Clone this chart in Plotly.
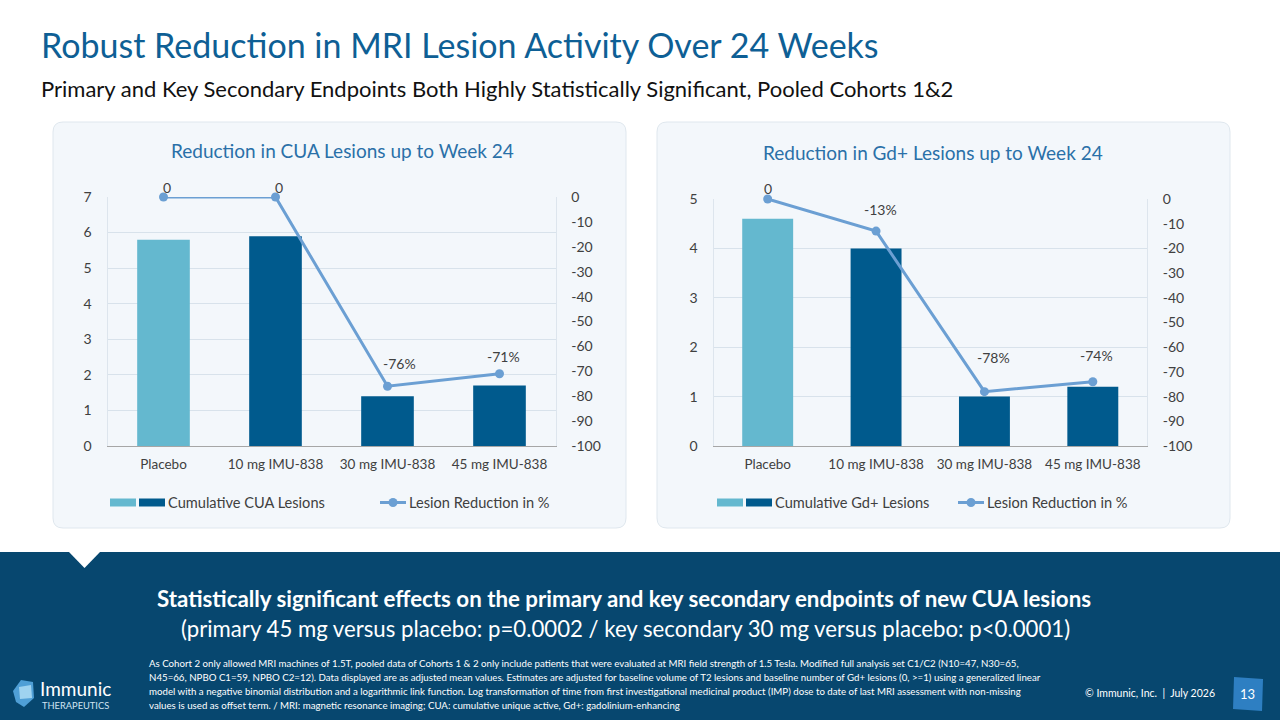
import plotly.graph_objects as go

# data
categories = ["Placebo", "10 mg IMU-838", "30 mg IMU-838", "45 mg IMU-838"]
cua_lesions = [5.8, 5.9, 1.4, 1.7]
cua_reduction = [0, 0, -76, -71]
gd_lesions = [4.6, 4.0, 1.0, 1.2]
gd_reduction = [0, -13, -78, -74]
pct_ticks = [0, -10, -20, -30, -40, -50, -60, -70, -80, -90, -100]

footnote = [
    "As Cohort 2 only allowed MRI machines of 1.5T, pooled data of Cohorts 1 & 2 only include patients that were evaluated at MRI field strength of 1.5 Tesla. Modified full analysis set C1/C2 (N10=47, N30=65,",
    "N45=66, NPBO C1=59, NPBO C2=12). Data displayed are as adjusted mean values. Estimates are adjusted for baseline volume of T2 lesions and baseline number of Gd+ lesions (0, >=1) using a generalized linear",
    "model with a negative binomial distribution and a logarithmic link function. Log transformation of time from first investigational medicinal product (IMP) dose to date of last MRI assessment with non-missing",
    "values is used as offset term. / MRI: magnetic resonance imaging; CUA: cumulative unique active, Gd+: gadolinium-enhancing",
]

FONT = "Lato"
LIGHT = "#64b8cf"
DARK = "#005a8d"
LINE = "#6b9fd3"
NAVY = "#07476f"
TXT = "#404040"
W, H = 1280, 720


def X(px):
    return px / W


def Y(py):
    return 1 - py / H


def pct_text(vals):
    return [f"{v}%" if v else "0" for v in vals]


def rounded_box(x0, y0, x1, y1, r=10):
    x0, x1, y0, y1 = X(x0), X(x1), Y(y0), Y(y1)
    rx, ry = r / W, r / H
    return (f"M{x0+rx},{y0} L{x1-rx},{y0} Q{x1},{y0} {x1},{y0-ry} "
            f"L{x1},{y1+ry} Q{x1},{y1} {x1-rx},{y1} L{x0+rx},{y1} "
            f"Q{x0},{y1} {x0},{y1+ry} L{x0},{y0-ry} Q{x0},{y0} {x0+rx},{y0} Z")


fig = go.Figure()

# label shifts (px) of the % labels relative to their points, as placed on the slide
panels = [
    dict(lesions=cua_lesions, red=cua_reduction, ymax=7, xa="x", ya="y", ya2="y2",
         dom=(107.5, 555.5), top=197, title="Reduction in CUA Lesions up to Week 24",
         box=(53, 626), tx=342, ty=150, legend="Cumulative CUA Lesions", lx=110, mx=380,
         shifts=[(3, 10), (3, 10), (12, 23), (4, 17)]),
    dict(lesions=gd_lesions, red=gd_reduction, ymax=5, xa="x2", ya="y3", ya2="y4",
         dom=(713.5, 1147), top=199, title="Reduction in Gd+ Lesions up to Week 24",
         box=(657, 1230), tx=933, ty=152, legend="Cumulative Gd+ Lesions", lx=717, mx=958,
         shifts=[(0, 11), (4, 22), (9, 34), (4, 26)]),
]

shapes = []
annotations = []
bottom = 446

for i, p in enumerate(panels):
    bar_colors = [LIGHT if c == "Placebo" else DARK for c in categories]
    fig.add_trace(go.Bar(x=categories, y=p["lesions"], marker=dict(color=bar_colors, line_width=0),
                         xaxis=p["xa"], yaxis=p["ya"], showlegend=False))
    fig.add_trace(go.Scatter(x=categories, y=p["red"], mode="lines+markers",
                             line=dict(color=LINE, width=3), marker=dict(color=LINE, size=9),
                             xaxis=p["xa"], yaxis=p["ya2"], showlegend=False, cliponaxis=False))
    for c, v, t, (dx, dy) in zip(categories, p["red"], pct_text(p["red"]), p["shifts"]):
        annotations.append(dict(text=t, x=c, y=v, xref=p["xa"], yref=p["ya2"], xshift=dx, yshift=dy,
                                xanchor="center", yanchor="middle",
                                font=dict(family=FONT, size=14, color=TXT)))

    n = "" if i == 0 else "2"
    xdom = [X(p["dom"][0]), X(p["dom"][1])]
    ydom = [Y(bottom), Y(p["top"])]
    fig.layout["xaxis" + n] = dict(domain=xdom, anchor=p["ya"], showline=True, linecolor="#a6a6a6",
                                   linewidth=1, ticks="", showgrid=False, ticklabelstandoff=6,
                                   tickfont=dict(family=FONT, size=13.5, color=TXT))
    fig.layout[p["ya"].replace("y", "yaxis")] = dict(
        domain=ydom, anchor=p["xa"], range=[0, p["ymax"]], dtick=1, showgrid=True,
        gridcolor="#d8e2eb", gridwidth=1, zeroline=False, showline=True, linecolor="#dde5ed",
        tickfont=dict(family=FONT, size=14, color=TXT), ticklabelstandoff=12)
    fig.layout[p["ya2"].replace("y", "yaxis")] = dict(
        domain=ydom, anchor=p["xa"], overlaying=p["ya"], side="right", range=[-100, 0],
        tickvals=pct_ticks, ticktext=[str(v) for v in pct_ticks],
        showgrid=False, zeroline=False, showline=True, linecolor="#dde5ed",
        tickfont=dict(family=FONT, size=14, color=TXT), ticklabelstandoff=12)

    # panel background
    bx0, bx1 = p["box"]
    shapes.append(dict(type="path", path=rounded_box(bx0, 122, bx1, 528), xref="paper", yref="paper",
                       fillcolor="#f3f7fb", line=dict(color="#dfe7ee", width=1), layer="below"))
    annotations.append(dict(text=p["title"], x=X(p["tx"]), y=Y(p["ty"]), xanchor="center",
                            yanchor="middle", font=dict(family=FONT, size=19, color="#2a70a8")))

    # legend drawn by hand: two swatches for the bars, line+dot for the reduction
    lx, mx, ly = p["lx"], p["mx"], 502.5
    shapes.append(dict(type="rect", x0=X(lx), x1=X(lx + 26), y0=Y(ly + 4), y1=Y(ly - 4),
                       xref="paper", yref="paper", fillcolor=LIGHT, line_width=0))
    shapes.append(dict(type="rect", x0=X(lx + 29), x1=X(lx + 55), y0=Y(ly + 4), y1=Y(ly - 4),
                       xref="paper", yref="paper", fillcolor=DARK, line_width=0))
    annotations.append(dict(text=p["legend"], x=X(lx + 56), y=Y(ly), xanchor="left",
                            yanchor="middle", font=dict(family=FONT, size=14.6, color=TXT)))
    shapes.append(dict(type="line", x0=X(mx), x1=X(mx + 26), y0=Y(ly), y1=Y(ly), xref="paper",
                       yref="paper", line=dict(color=LINE, width=3)))
    shapes.append(dict(type="circle", x0=X(mx + 8.5), x1=X(mx + 17.5), y0=Y(ly + 4.5),
                       y1=Y(ly - 4.5), xref="paper", yref="paper", fillcolor=LINE, line_width=0))
    annotations.append(dict(text="Lesion Reduction in %", x=X(mx + 27), y=Y(ly), xanchor="left",
                            yanchor="middle", font=dict(family=FONT, size=14.6, color=TXT)))

# bottom band with notch
shapes.append(dict(type="rect", x0=0, x1=1, y0=0, y1=Y(552), xref="paper", yref="paper",
                   fillcolor=NAVY, line_width=0, layer="below"))
shapes.append(dict(type="path", path=f"M{X(68)},{Y(551)} L{X(101)},{Y(551)} L{X(84.5)},{Y(568)} Z",
                   xref="paper", yref="paper", fillcolor="white", line_width=0))
# page number box
shapes.append(dict(type="path",
                   path=f"M{X(1234)},{Y(677)} L{X(1263)},{Y(679)} L{X(1262)},{Y(711)} L{X(1233)},{Y(709)} Z",
                   xref="paper", yref="paper", fillcolor="#2e7fc2", line_width=0))
# logo mark
shapes.append(dict(type="path",
                   path=f"M{X(13)},{Y(691)} L{X(21)},{Y(680)} L{X(33)},{Y(682)} L{X(34)},{Y(698)} "
                        f"L{X(24)},{Y(707)} L{X(16)},{Y(702)} Z",
                   xref="paper", yref="paper", fillcolor="#4f9fd6", line_width=0))
shapes.append(dict(type="path",
                   path=f"M{X(19)},{Y(687)} L{X(31)},{Y(685)} L{X(32)},{Y(698)} L{X(20)},{Y(699)} Z",
                   xref="paper", yref="paper", fillcolor="#9fd3f0", line_width=0))

annotations += [
    dict(text="Robust Reduction in MRI Lesion Activity Over 24 Weeks", x=X(39), y=Y(44),
         xanchor="left", yanchor="middle", font=dict(family=FONT, size=34, color="#0e5f95")),
    dict(text="Primary and Key Secondary Endpoints Both Highly Statistically Significant, Pooled Cohorts 1&2",
         x=X(39), y=Y(88.5), xanchor="left", yanchor="middle",
         font=dict(family=FONT, size=22, color="#111111")),
    dict(text="<b>Statistically significant effects on the primary and key secondary endpoints of new CUA lesions</b>",
         x=X(624), y=Y(598), xanchor="center", yanchor="middle",
         font=dict(family=FONT, size=22.3, color="white")),
    dict(text="(primary 45 mg versus placebo: p=0.0002 / key secondary 30 mg versus placebo: p<0.0001)",
         x=X(625), y=Y(628), xanchor="center", yanchor="middle",
         font=dict(family=FONT, size=22.2, color="white")),
    dict(text="© Immunic, Inc.  |  July 2026", x=X(1217), y=Y(693), xanchor="right", yanchor="middle",
         font=dict(family=FONT, size=10.5, color="white")),
    dict(text="13", x=X(1247), y=Y(694), xanchor="center", yanchor="middle",
         font=dict(family=FONT, size=13, color="white")),
    dict(text="Immunic", x=X(38), y=Y(688), xanchor="left", yanchor="middle",
         font=dict(family=FONT, size=19, color="white")),
    dict(text="THERAPEUTICS", x=X(40), y=Y(705), xanchor="left", yanchor="middle",
         font=dict(family=FONT, size=9.3, color="#cfe3f1")),
]
for k, line in enumerate(footnote):
    annotations.append(dict(text=line, x=X(147), y=Y(663 + 14 * k), xanchor="left",
                            yanchor="middle", font=dict(family=FONT, size=9.7, color="white")))

for a in annotations:
    a.setdefault("xref", "paper")
    a.setdefault("yref", "paper")
    a.setdefault("showarrow", False)

fig.update_layout(width=W, height=H, margin=dict(l=0, r=0, t=0, b=0, autoexpand=False),
                  paper_bgcolor="white", plot_bgcolor="rgba(0,0,0,0)", bargap=0.53, shapes=shapes,
                  annotations=annotations, font=dict(family=FONT), showlegend=False)

fig.write_html("out.html", config={"displayModeBar": False},
               post_script="document.body.style.margin='0';")
